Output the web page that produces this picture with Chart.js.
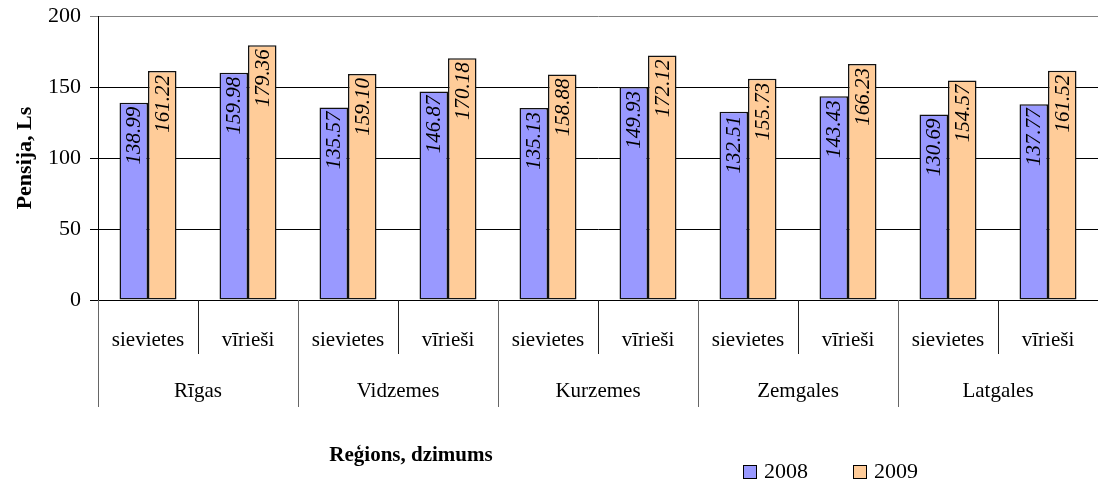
<!DOCTYPE html>
<html>
<head>
<meta charset="utf-8">
<script src="https://cdn.jsdelivr.net/npm/chart.js@4/dist/chart.umd.min.js"></script>
<style>
  html, body { margin: 0; padding: 0; background: #fff; }
  #wrap { width: 1098px; height: 481px; position: relative; }
</style>
</head>
<body>
<div id="wrap"><canvas id="myChart"></canvas></div>
<script>
"use strict";

// chart data
var regions = ['Rīgas', 'Vidzemes', 'Kurzemes', 'Zemgales', 'Latgales'];
var genders = ['sievietes', 'vīrieši'];
var values2008 = [138.99, 159.98, 135.57, 146.87, 135.13, 149.93, 132.51, 143.43, 130.69, 137.77];
var values2009 = [161.22, 179.36, 159.10, 170.18, 158.88, 172.12, 155.73, 166.23, 154.57, 161.52];
var yTicks = [0, 50, 100, 150, 200];

var SERIF = '"Liberation Serif", "Times New Roman", serif';

var labels = [];
regions.forEach(function(r) {
  genders.forEach(function(g) {
    labels.push(g);
  });
});

//draws the rotated value inside each bar
var barValuesPlugin = {
  id: 'barValues',
  afterDatasetsDraw: function(chart) {
    var ctx = chart.ctx;
    ctx.save();
    ctx.font = 'italic 21px ' + SERIF;
    ctx.fillStyle = '#000';
    ctx.textAlign = 'right';
    ctx.textBaseline = 'middle';
    chart.data.datasets.forEach(function(ds, di) {
      var meta = chart.getDatasetMeta(di);
      meta.data.forEach(function(bar, i) {
        ctx.save();
        ctx.translate(bar.x + 1, bar.y + 4);
        ctx.rotate(-Math.PI / 2);
        ctx.fillText(ds.data[i].toFixed(2), 0, 0);
        ctx.restore();
      });
    });
    ctx.restore();
  }
};

//two level category axis, x title and legend
var categoryAxisPlugin = {
  id: 'categoryAxis',
  afterDraw: function(chart) {
    var ctx = chart.ctx;
    var xs = chart.scales.x;
    var area = chart.chartArea;
    var n = labels.length;
    var step = xs.getPixelForValue(1) - xs.getPixelForValue(0);
    var base = area.bottom;
    ctx.save();

    // separators
    ctx.lineWidth = 1;
    for (var i = 0; i <= n; i++) {
      var x = Math.round(xs.getPixelForValue(i) - step / 2) + 0.5;
      var major = (i % genders.length === 0);
      ctx.strokeStyle = major ? '#666' : '#222';
      ctx.beginPath();
      ctx.moveTo(x, base);
      ctx.lineTo(x, base + (major ? 107 : 54));
      ctx.stroke();
    }

    // sub labels
    ctx.fillStyle = '#000';
    ctx.font = '21px ' + SERIF;
    ctx.textAlign = 'center';
    ctx.textBaseline = 'middle';
    labels.forEach(function(l, i) {
      ctx.fillText(l, xs.getPixelForValue(i), base + 40);
    });

    // region labels
    regions.forEach(function(r, ri) {
      var x = (xs.getPixelForValue(ri * 2) + xs.getPixelForValue(ri * 2 + 1)) / 2;
      ctx.fillText(r, x, base + 91);
    });

    // x axis title
    ctx.font = 'bold 21px ' + SERIF;
    ctx.fillText('Reģions, dzimums', 411, 456);

    // legend
    ctx.font = '22px ' + SERIF;
    ctx.textAlign = 'left';
    var lx = [743, 853];
    chart.data.datasets.forEach(function(ds, di) {
      ctx.fillStyle = ds.backgroundColor;
      ctx.fillRect(lx[di] + 0.5, 465.5, 13, 13);
      ctx.strokeStyle = '#000';
      ctx.strokeRect(lx[di] + 0.5, 465.5, 13, 13);
      ctx.fillStyle = '#000';
      ctx.fillText(ds.label, lx[di] + 21, 472);
    });
    ctx.restore();
  }
};

var ctx = document.getElementById('myChart').getContext('2d');
var chart = new Chart(ctx, {
  type: 'bar',
  data: {
    labels: labels,
    datasets: [{
      label: '2008',
      data: values2008,
      backgroundColor: '#9999FF',
      borderColor: '#111',
      borderWidth: 1.5,
      borderSkipped: false
    }, {
      label: '2009',
      data: values2009,
      backgroundColor: '#FFCC99',
      borderColor: '#111',
      borderWidth: 1.5,
      borderSkipped: false
    }]
  },
  options: {
    responsive: true,
    maintainAspectRatio: false,
    animation: false,
    devicePixelRatio: 1,
    layout: {
      padding: { left: 0, right: 0, top: 0, bottom: 181 }
    },
    datasets: {
      bar: { categoryPercentage: 0.57, barPercentage: 1.0 }
    },
    plugins: {
      legend: { display: false },
      tooltip: { enabled: false }
    },
    scales: {
      x: {
        display: false,
        grid: { display: false }
      },
      y: {
        min: 0,
        max: 200,
        afterBuildTicks: function(axis) {
          axis.ticks = yTicks.map(function(v) { return { value: v }; });
        },
        afterFit: function(axis) {
          axis.width = 98;
          axis.paddingTop = 16;
        },
        border: { display: true, color: '#000', width: 1 },
        grid: {
          color: function(c) { return c.tick && c.tick.value === 200 ? '#808080' : '#000'; },
          tickLength: 8,
          lineWidth: 1
        },
        ticks: {
          color: '#000',
          padding: 9,
          font: { family: SERIF, size: 22 }
        },
        title: {
          display: true,
          text: 'Pensija, Ls',
          color: '#000',
          padding: { top: 12, bottom: 0 },
          font: { family: SERIF, size: 22, weight: 'bold' }
        }
      }
    }
  },
  plugins: [barValuesPlugin, categoryAxisPlugin]
});
</script>
</body>
</html>
